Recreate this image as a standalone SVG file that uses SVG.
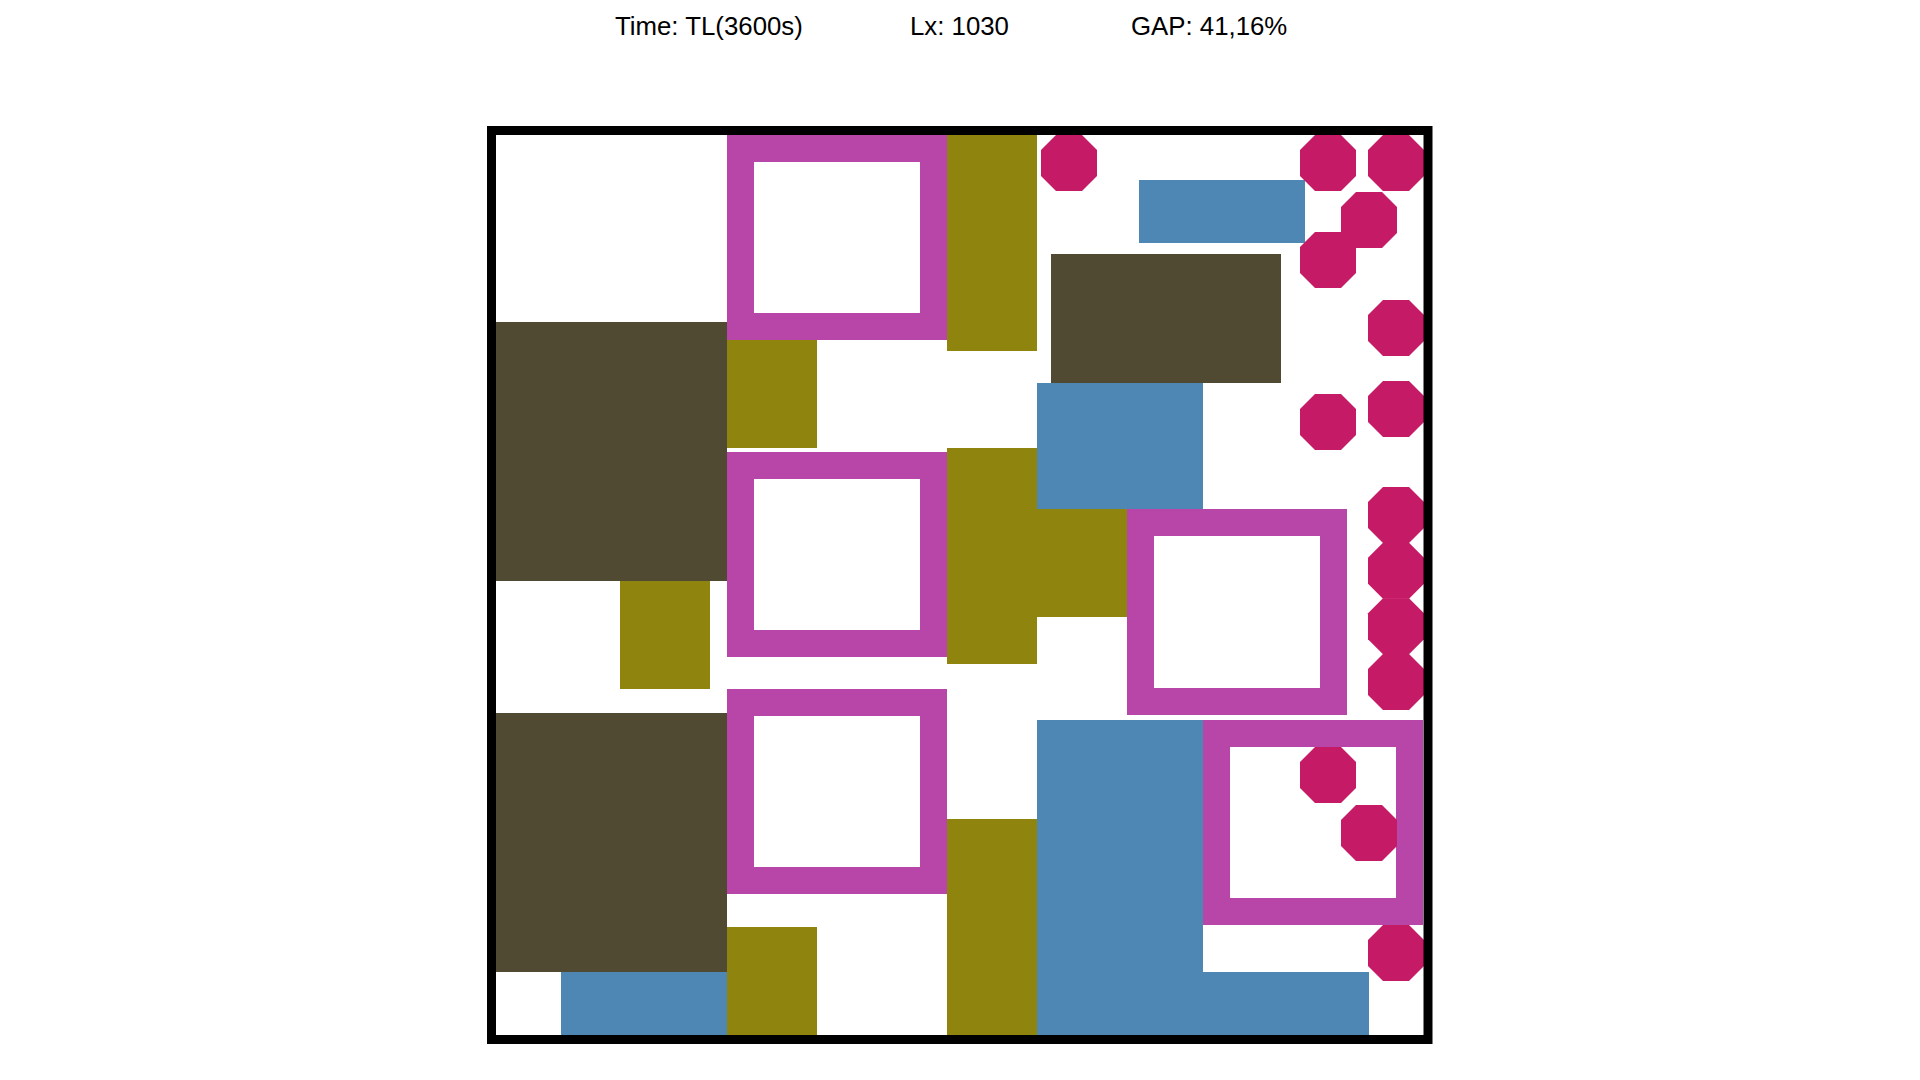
<svg xmlns="http://www.w3.org/2000/svg" xmlns:xlink="http://www.w3.org/1999/xlink" width="1920" height="1080" viewBox="0 0 1920 1080">
<style>
.t{font-family:"Liberation Sans",Arial,sans-serif;font-size:25.8px;fill:#000}
.ol{fill:#8F850E}
.dk{fill:#514A33}
.bl{fill:#4F87B4}
.fr{fill:none;stroke:#B845A8;stroke-width:27}
.oc{fill:#C51B66}
</style>
<defs>
<polygon id="oct" points="15,0 41,0 56,15 56,41 41,56 15,56 0,41 0,15"/>
</defs>
<rect width="1920" height="1080" fill="#fff"/>
<g id="header">
<text class="t" x="615" y="35">Time: TL(3600s)</text>
<text class="t" x="910" y="35">Lx: 1030</text>
<text class="t" x="1131" y="35">GAP: 41,16%</text>
</g>
<g id="olive">
<rect class="ol" x="947" y="135" width="90" height="216"/>
<rect class="ol" x="727" y="340" width="90" height="108"/>
<rect class="ol" x="947" y="448" width="90" height="216"/>
<rect class="ol" x="1037" y="509" width="90" height="108"/>
<rect class="ol" x="620" y="581" width="90" height="108"/>
<rect class="ol" x="727" y="927" width="90" height="108"/>
<rect class="ol" x="947" y="819" width="90" height="216"/>
</g>
<g id="dark">
<rect class="dk" x="496" y="322" width="231" height="259"/>
<rect class="dk" x="1051" y="254" width="230" height="129"/>
<rect class="dk" x="496" y="713" width="231" height="259"/>
</g>
<g id="blue">
<rect class="bl" x="1139" y="180" width="166" height="63"/>
<rect class="bl" x="1037" y="383" width="166" height="126"/>
<rect class="bl" x="1037" y="720" width="166" height="315"/>
<rect class="bl" x="561" y="972" width="166" height="63"/>
<rect class="bl" x="1203" y="972" width="166" height="63"/>
</g>
<g id="frames">
<rect class="fr" x="740.5" y="148.5" width="193" height="178"/>
<rect class="fr" x="740.5" y="465.5" width="193" height="178"/>
<rect class="fr" x="740.5" y="702.5" width="193" height="178"/>
<rect class="fr" x="1140.5" y="522.5" width="193" height="179"/>
<rect class="fr" x="1216.5" y="733.5" width="193" height="178"/>
</g>
<g id="octagons" class="oc">
<use xlink:href="#oct" x="1041" y="135"/>
<use xlink:href="#oct" x="1300" y="135"/>
<use xlink:href="#oct" x="1368" y="135"/>
<use xlink:href="#oct" x="1341" y="192"/>
<use xlink:href="#oct" x="1300" y="232"/>
<use xlink:href="#oct" x="1368" y="300"/>
<use xlink:href="#oct" x="1368" y="381"/>
<use xlink:href="#oct" x="1300" y="394"/>
<use xlink:href="#oct" x="1368" y="487"/>
<use xlink:href="#oct" x="1368" y="542.7"/>
<use xlink:href="#oct" x="1368" y="598.3"/>
<use xlink:href="#oct" x="1368" y="654"/>
<use xlink:href="#oct" x="1300" y="747"/>
<use xlink:href="#oct" x="1341" y="805"/>
<use xlink:href="#oct" x="1368" y="925"/>
</g>
<g id="connectors"/>
<rect id="border" x="491.5" y="130.5" width="936.5" height="909" fill="none" stroke="#000" stroke-width="9"/>
</svg>
